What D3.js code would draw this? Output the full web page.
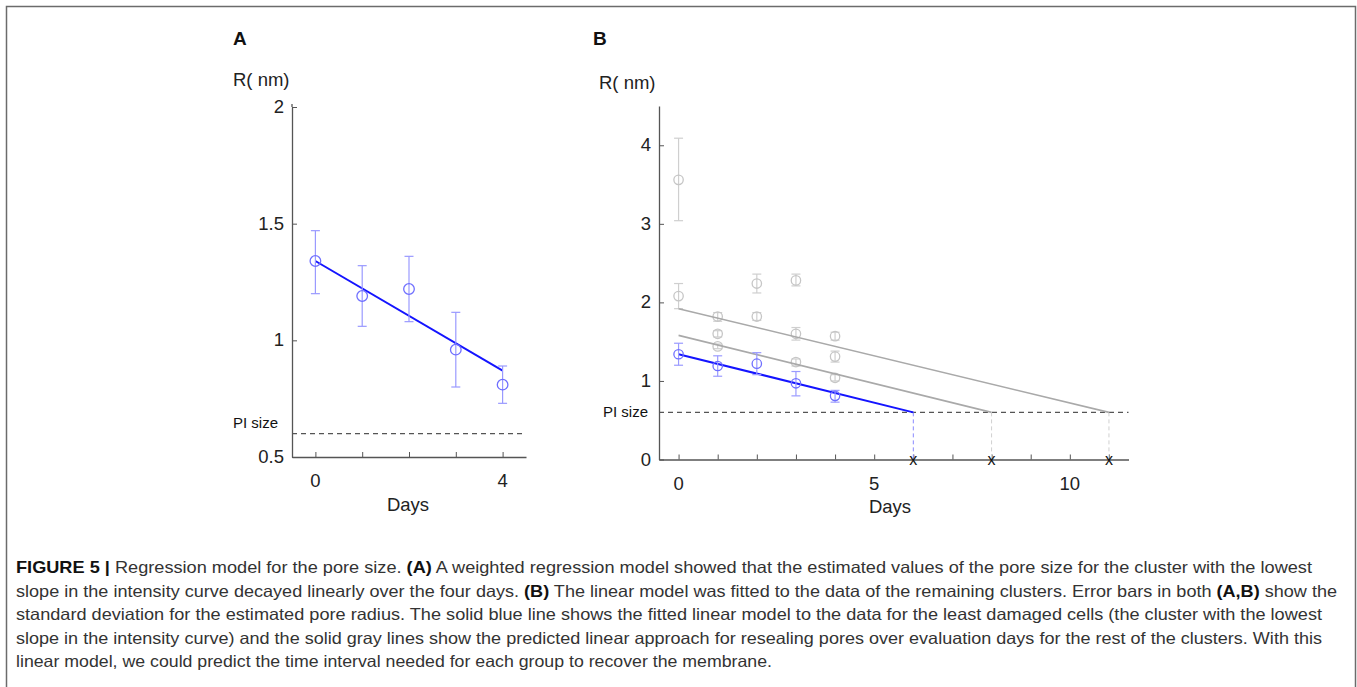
<!DOCTYPE html>
<html>
<head>
<meta charset="utf-8">
<script src="https://cdn.jsdelivr.net/npm/d3@7"></script>
<style>
  html, body { margin: 0; padding: 0; background: #fff; }
  svg { display: block; }
  text { font-family: "Liberation Sans", Arial, sans-serif; }
</style>
</head>
<body>
<svg id="chart" width="1357" height="687"></svg>
<script>
// ---------- DATA ----------
// Panel A: least-damaged cluster
const daysA = [0, 1, 2, 3, 4];
const meanA = [1.34, 1.19, 1.22, 0.96, 0.81];
const lowA  = [1.20, 1.06, 1.08, 0.80, 0.73];
const highA = [1.47, 1.32, 1.36, 1.12, 0.89];
const fitA_x = [0, 4];
const fitA_y = [1.34, 0.87];
const piSize = 0.6;
const xTicksA = [0, 1, 2, 3, 4];
const xLabelsA = [0, 4];
const yTicksA = [0.5, 1, 1.5, 2];

// Panel B: all clusters
const daysBlue = [0, 1, 2, 3, 4];
const meanBlue = [1.34, 1.19, 1.22, 0.97, 0.81];
const lowBlue  = [1.20, 1.06, 1.08, 0.81, 0.73];
const highBlue = [1.48, 1.32, 1.36, 1.12, 0.88];
const daysGray = [0, 0, 1, 1, 1, 2, 2, 3, 3, 3, 4, 4, 4];
const meanGray = [3.56, 2.08, 1.82, 1.60, 1.44, 2.24, 1.82, 2.28, 1.60, 1.24, 1.57, 1.31, 1.04];
const lowGray  = [3.04, 1.92, 1.76, 1.56, 1.41, 2.12, 1.77, 2.21, 1.52, 1.19, 1.52, 1.24, 1.00];
const highGray = [4.09, 2.24, 1.87, 1.64, 1.47, 2.36, 1.87, 2.36, 1.68, 1.28, 1.62, 1.38, 1.08];
const fitBlue_x = [0, 6];
const fitBlue_y = [1.34, 0.6];
const fitGray1_x = [0, 11];
const fitGray1_y = [1.92, 0.6];
const fitGray2_x = [0, 8];
const fitGray2_y = [1.58, 0.6];
const crossDays = [6, 8, 11];
const crossKinds = ["blue", "gray", "gray"];
const xTicksB = [0, 1, 2, 3, 4, 5, 6, 7, 8, 9, 10, 11];
const xLabelsB = [0, 5, 10];
const yTicksB = [0, 1, 2, 3, 4];

const captionLines = [
  [["FIGURE 5 | ", true], ["Regression model for the pore size. ", false], ["(A)", true], [" A weighted regression model showed that the estimated values of the pore size for the cluster with the lowest", false]],
  [["slope in the intensity curve decayed linearly over the four days. ", false], ["(B)", true], [" The linear model was fitted to the data of the remaining clusters. Error bars in both ", false], ["(A,B)", true], [" show the", false]],
  [["standard deviation for the estimated pore radius. The solid blue line shows the fitted linear model to the data for the least damaged cells (the cluster with the lowest", false]],
  [["slope in the intensity curve) and the solid gray lines show the predicted linear approach for resealing pores over evaluation days for the rest of the clusters. With this", false]],
  [["linear model, we could predict the time interval needed for each group to recover the membrane.", false]]
];
const captionEnds = [1312, 1337, 1322, 1322, 772];

// ---------- STYLE ----------
const C = {
  axis: "#555", text: "#222",
  blueLine: "#1414ff", bluePt: "#6f6fff", blueErr: "#9a9aff",
  grayLine: "#a9a9a9", grayPt: "#c6c6c6", grayErr: "#cfcfcf",
  pi: "#555"
};

const svg = d3.select("#chart");

// Frame
svg.append("path")
  .attr("d", "M6.5,687 L6.5,6.5 L1355.5,6.5 L1355.5,687")
  .attr("fill", "none").attr("stroke", "#6b6b6b").attr("stroke-width", 1.5);

function panel(opt) {
  const g = svg.append("g");
  const x = d3.scaleLinear().domain(opt.xDomain).range(opt.xRange);
  const y = d3.scaleLinear().domain(opt.yDomain).range(opt.yRange);

  // axes (inner ticks)
  const xAxis = d3.axisBottom(x).tickValues(opt.xTicks).tickSizeInner(-5).tickSizeOuter(0).tickFormat("");
  const gx = g.append("g").attr("transform", `translate(0,${opt.yRange[0]})`).call(xAxis);
  const yAxis = d3.axisLeft(y).tickValues(opt.yTicks).tickSizeInner(-5).tickSizeOuter(0).tickFormat("");
  const gy = g.append("g").attr("transform", `translate(${opt.xRange[0]},0)`).call(yAxis);
  [gx, gy].forEach(a => {
    a.select(".domain").attr("stroke", C.axis).attr("stroke-width", 1.3);
    a.selectAll(".tick line").attr("stroke", C.axis).attr("stroke-width", 1);
  });
  g.append("line").attr("x1", opt.xRange[0]).attr("x2", opt.xRange[0])
    .attr("y1", opt.yRange[1]).attr("y2", opt.yRange[1] - opt.yExtra)
    .attr("stroke", C.axis).attr("stroke-width", 1.3);

  // tick labels
  g.selectAll(".xl").data(opt.xLabels).enter().append("text")
    .attr("x", d => x(d)).attr("y", opt.yRange[0] + 30)
    .attr("text-anchor", "middle").attr("font-size", 18.5).attr("fill", C.text)
    .text(d => d);
  g.selectAll(".yl").data(opt.yTicks).enter().append("text")
    .attr("x", opt.xRange[0] - 8).attr("y", d => y(d) + 6)
    .attr("text-anchor", "end").attr("font-size", 18.5).attr("fill", C.text)
    .text(d => d);

  // titles
  g.append("text").attr("x", opt.letterX).attr("y", 45).attr("font-size", 19)
    .attr("font-weight", "bold").attr("fill", "#111").text(opt.letter);
  g.append("text").attr("x", opt.rX).attr("y", opt.rY).attr("font-size", 18.5)
    .attr("fill", C.text).text("R( nm)");
  g.append("text").attr("x", opt.daysX).attr("y", opt.daysY).attr("font-size", 18.5)
    .attr("text-anchor", "middle").attr("fill", C.text).text("Days");

  // PI size
  g.append("line").attr("x1", opt.xRange[0]).attr("x2", opt.xRange[1])
    .attr("y1", y(piSize)).attr("y2", y(piSize))
    .attr("stroke", C.pi).attr("stroke-width", 1.2).attr("stroke-dasharray", "5,4");
  g.append("text").attr("x", opt.piX).attr("y", y(piSize) + opt.piDy).attr("font-size", 15)
    .attr("fill", "#111").text("PI size");

  return { g, x, y };
}

function errorPoints(p, days, mean, low, high, ptColor, errColor, r) {
  const idx = d3.range(days.length);
  const cap = 4.5;
  const eg = p.g.append("g");
  idx.forEach(i => {
    const cx = p.x(days[i]);
    eg.append("line").attr("x1", cx).attr("x2", cx).attr("y1", p.y(low[i])).attr("y2", p.y(high[i]))
      .attr("stroke", errColor).attr("stroke-width", 1.2);
    [low[i], high[i]].forEach(v => {
      eg.append("line").attr("x1", cx - cap).attr("x2", cx + cap).attr("y1", p.y(v)).attr("y2", p.y(v))
        .attr("stroke", errColor).attr("stroke-width", 1.2);
    });
  });
  eg.selectAll("circle.pt").data(idx).enter().append("circle")
    .attr("cx", i => p.x(days[i])).attr("cy", i => p.y(mean[i])).attr("r", r)
    .attr("fill", "none").attr("stroke", ptColor).attr("stroke-width", 1.3);
}

function fitLine(p, xs, ys, color, w) {
  const line = d3.line().x(d => p.x(d[0])).y(d => p.y(d[1]));
  p.g.append("path").datum(d3.zip(xs, ys)).attr("d", line)
    .attr("fill", "none").attr("stroke", color).attr("stroke-width", w);
}

// ----- Panel A -----
const pA = panel({
  xDomain: [-0.5, 4.5], xRange: [292, 526],
  yDomain: [0.5, 2.0], yRange: [457, 107], yExtra: 3,
  xTicks: xTicksA, xLabels: xLabelsA, yTicks: yTicksA,
  letter: "A", letterX: 233, rX: 233, rY: 86, daysX: 408, daysY: 511, piX: 233, piDy: -6
});
fitLine(pA, fitA_x, fitA_y, C.blueLine, 2);
errorPoints(pA, daysA, meanA, lowA, highA, C.bluePt, C.blueErr, 5.3);

// ----- Panel B -----
const pB = panel({
  xDomain: [-0.5, 11.5], xRange: [659, 1128.5],
  yDomain: [0, 4.5], yRange: [459.5, 106], yExtra: 0,
  xTicks: xTicksB, xLabels: xLabelsB, yTicks: yTicksB,
  letter: "B", letterX: 593, rX: 599, rY: 89, daysX: 890, daysY: 513, piX: 603, piDy: 5
});
crossDays.forEach((d, i) => {
  pB.g.append("line").attr("x1", pB.x(d)).attr("x2", pB.x(d))
    .attr("y1", pB.y(piSize)).attr("y2", pB.y(0))
    .attr("stroke", crossKinds[i] === "blue" ? "#8a8aff" : "#d0d0d0")
    .attr("stroke-width", 1).attr("stroke-dasharray", "4,3");
});
errorPoints(pB, daysGray, meanGray, lowGray, highGray, C.grayPt, C.grayErr, 4.7);
fitLine(pB, fitGray1_x, fitGray1_y, C.grayLine, 1.6);
fitLine(pB, fitGray2_x, fitGray2_y, C.grayLine, 1.6);
fitLine(pB, fitBlue_x, fitBlue_y, C.blueLine, 2);
errorPoints(pB, daysBlue, meanBlue, lowBlue, highBlue, C.bluePt, C.blueErr, 4.7);
crossDays.forEach(d => {
  pB.g.append("text").attr("x", pB.x(d)).attr("y", pB.y(0) + 5)
    .attr("text-anchor", "middle").attr("font-size", 16).attr("fill", "#111").text("x");
});

// ----- Caption -----
const capX = 16;
captionLines.forEach((segs, i) => {
  const t = svg.append("text").attr("x", capX).attr("y", 573 + i * 23.6)
    .attr("font-size", 16.5).attr("fill", "#333")
    .attr("textLength", captionEnds[i] - capX).attr("lengthAdjust", "spacingAndGlyphs");
  segs.forEach(s => {
    t.append("tspan").attr("font-weight", s[1] ? "bold" : "normal")
      .attr("fill", s[1] ? "#111" : "#333").text(s[0]);
  });
});
</script>
</body>
</html>
